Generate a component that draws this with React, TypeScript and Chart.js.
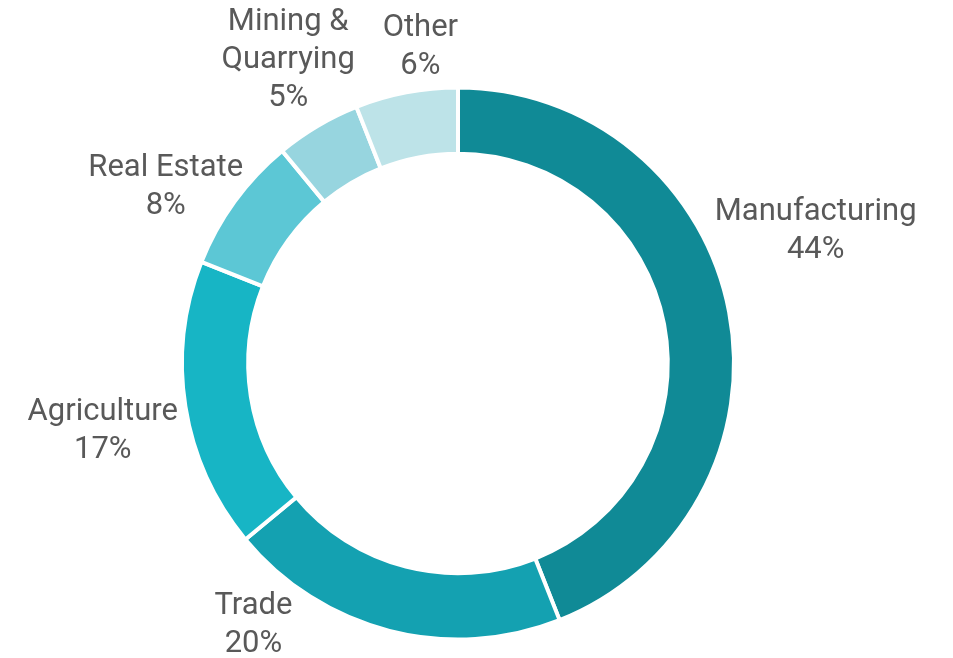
import React, { useEffect, useRef } from "react";
import { Chart, registerables } from "chart.js";

Chart.register(...registerables);

const categories = ["Manufacturing", "Trade", "Agriculture", "Real Estate", "Mining & Quarrying", "Other"];
const labelLines = [["Manufacturing"], ["Trade"], ["Agriculture"], ["Real Estate"], ["Mining &", "Quarrying"], ["Other"]];
const values = [44, 20, 17, 8, 5, 6];
const colors = ["#108a96", "#14a1b1", "#17b5c5", "#5cc7d5", "#97d5df", "#bde3e8"];
// small angular nudges (degrees) and radial gaps applied to label placement to avoid crowding
const labelNudge = [-13, 23.5, -3, -1.8, 2, 4];
const labelPad = [14, 18, 12, 0, 12, 4];

const FONT_SIZE = 31;
const LINE_H = 38;

const labelPlugin = {
  id: "outerLabels",
  afterDraw(chart: any) {
    const ctx = chart.ctx;
    const meta = chart.getDatasetMeta(0);
    ctx.save();
    ctx.font = `${FONT_SIZE}px Roboto`;
    ctx.fillStyle = "#595959";
    ctx.textAlign = "center";
    ctx.textBaseline = "middle";
    meta.data.forEach((arc: any, i: number) => {
      const { x, y, startAngle, endAngle, outerRadius } = arc.getProps(["x", "y", "startAngle", "endAngle", "outerRadius"], true);
      const mid = (startAngle + endAngle) / 2 + (labelNudge[i] * Math.PI) / 180;
      const dx = Math.cos(mid);
      const dy = Math.sin(mid);
      const lines = [...labelLines[i], values[i] + "%"];
      const w = Math.max(...lines.map((l) => ctx.measureText(l).width));
      const h = lines.length * LINE_H;
      const r = outerRadius + labelPad[i];
      const cx = x + dx * r + dx * (w / 2);
      const cy = y + dy * r + dy * (h / 2);
      lines.forEach((l, k) => {
        ctx.fillText(l, cx, cy - h / 2 + LINE_H / 2 + k * LINE_H);
      });
    });
    ctx.restore();
  },
};

export default function App() {
  const ref = useRef<HTMLCanvasElement>(null);
  useEffect(() => {
    if (!ref.current) return;
    const chart = new Chart(ref.current, {
      type: "doughnut",
      data: {
        labels: categories,
        datasets: [
          {
            data: values,
            backgroundColor: colors,
            borderColor: "#ffffff",
            borderWidth: 4,
            hoverOffset: 0,
          },
        ],
      },
      options: {
        responsive: false,
        animation: false,
        cutout: "76%",
        layout: { padding: { top: 85, bottom: 16, left: 180, right: 217 } },
        plugins: { legend: { display: false }, tooltip: { enabled: false } },
      },
      plugins: [labelPlugin],
    });
    return () => chart.destroy();
  }, []);
  return (
    <div style={{ position: "absolute", left: 0, top: 0, width: 953, height: 658 }}>
      <canvas ref={ref} width={953} height={658} />
    </div>
  );
}
